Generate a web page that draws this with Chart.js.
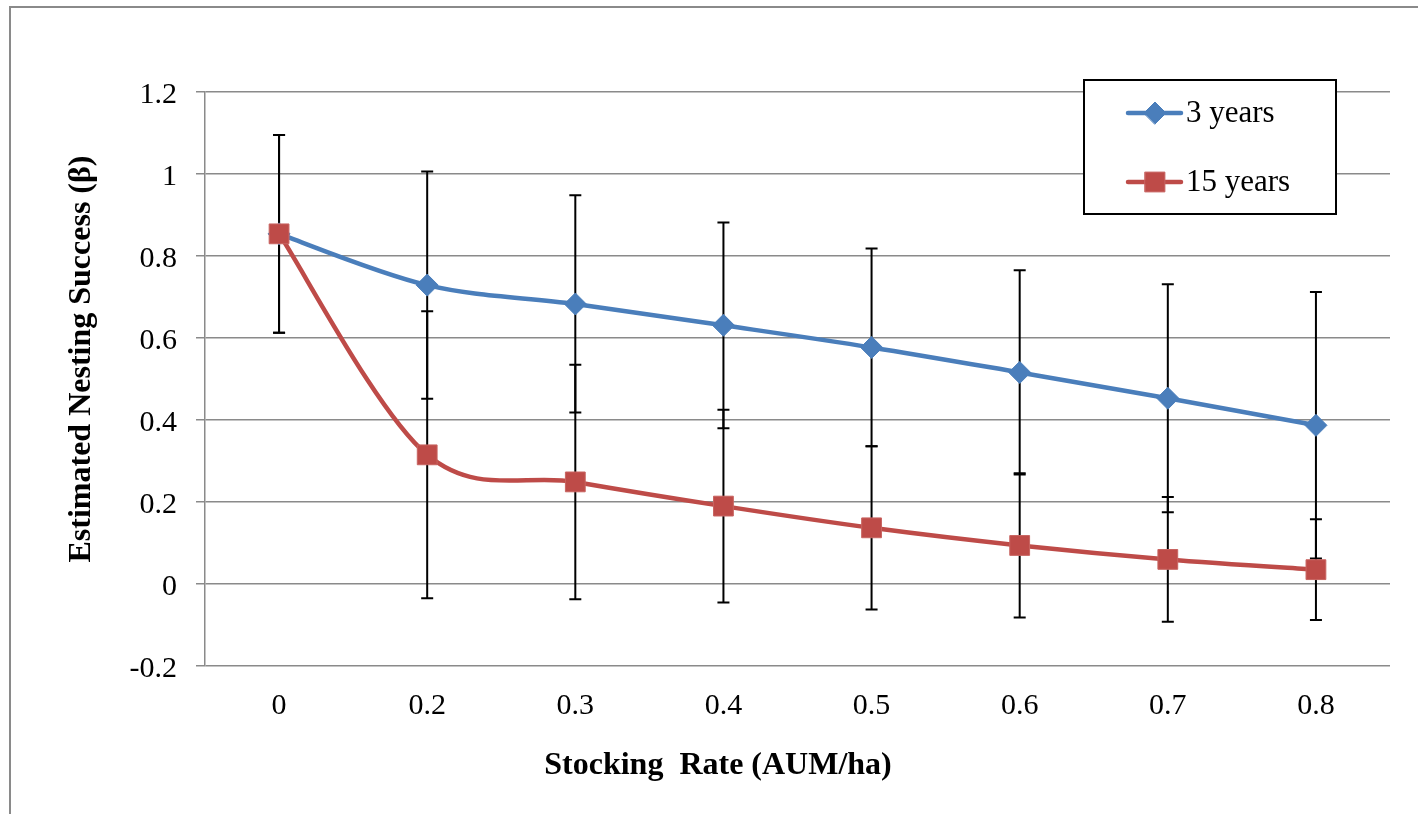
<!DOCTYPE html>
<html><head><meta charset="utf-8">
<script src="https://cdn.jsdelivr.net/npm/chart.js@4/dist/chart.umd.min.js"></script>
<style>
html,body{margin:0;padding:0;background:#fff;}
#wrap{position:relative;width:1418px;height:814px;overflow:hidden;background:#fff;}
#frame{position:absolute;left:9px;top:6px;width:2000px;height:2000px;border-top:2px solid #8a8a8a;border-left:2px solid #8a8a8a;}
canvas{position:absolute;left:0;top:0;}
</style></head><body>
<div id="wrap"><div id="frame"></div><canvas id="c" width="1418" height="814"></canvas></div>
<script>
const categories = ['0', '0.2', '0.3', '0.4', '0.5', '0.6', '0.7', '0.8'];
const yTickLabels = ['-0.2', '0', '0.2', '0.4', '0.6', '0.8', '1', '1.2'];
const seriesNames = ['3 years', '15 years'];
const threeYears = [0.854, 0.729, 0.683, 0.631, 0.577, 0.516, 0.453, 0.387];
const threeYearsErr = [0.241, 0.277, 0.265, 0.251, 0.241, 0.249, 0.278, 0.325];
const fifteenYears = [0.854, 0.315, 0.249, 0.190, 0.137, 0.094, 0.060, 0.035];
const fifteenYearsErr = [0.241, 0.350, 0.286, 0.235, 0.199, 0.176, 0.152, 0.123];
const xTitle = 'Stocking  Rate (AUM/ha)';
const yTitle = 'Estimated Nesting Success (\u03B2)';

const BLUE = '#4A7EBB';
const RED = '#BE4B48';
const SERIF = "'Liberation Serif', 'Times New Roman', serif";

// Excel-like smoothing: uniform Catmull-Rom control points
const excelSmooth = {
  id: 'excelSmooth',
  beforeDatasetsDraw(chart) {
    chart.data.datasets.forEach((ds, di) => {
      const meta = chart.getDatasetMeta(di);
      const line = meta.dataset;
      if (!line) return;
      if (line.updateControlPoints) line.updateControlPoints(chart.chartArea, 'x');
      const pts = meta.data;
      const n = pts.length;
      for (let i = 0; i < n; i++) {
        const prev = pts[Math.max(0, i - 1)];
        const next = pts[Math.min(n - 1, i + 1)];
        const dx = (next.x - prev.x) / 6, dy = (next.y - prev.y) / 6;
        pts[i].cp1x = pts[i].x - dx; pts[i].cp1y = pts[i].y - dy;
        pts[i].cp2x = pts[i].x + dx; pts[i].cp2y = pts[i].y + dy;
      }
      line._pointsUpdated = true;
      line._path = undefined;
    });
  }
};

const errorBars = {
  id: 'errorBars',
  beforeDatasetsDraw(chart) {
    const ctx = chart.ctx, ys = chart.scales.y;
    chart.data.datasets.forEach((ds, di) => {
      const meta = chart.getDatasetMeta(di);
      meta.data.forEach((pt, i) => {
        const v = ds.data[i], e = ds.errors[i];
        const yt = ys.getPixelForValue(v + e), yb = ys.getPixelForValue(v - e);
        ctx.save();
        ctx.strokeStyle = '#000';
        ctx.lineWidth = 2;
        ctx.beginPath();
        ctx.moveTo(pt.x, yt); ctx.lineTo(pt.x, yb);
        ctx.moveTo(pt.x - 6, yt); ctx.lineTo(pt.x + 6, yt);
        ctx.moveTo(pt.x - 6, yb); ctx.lineTo(pt.x + 6, yb);
        ctx.stroke();
        ctx.restore();
      });
    });
  }
};

const decorations = {
  id: 'decorations',
  afterDraw(chart) {
    const ctx = chart.ctx;
    ctx.save();
    ctx.fillStyle = '#000';
    ctx.font = 'bold 32px ' + SERIF;
    ctx.textAlign = 'center';
    ctx.textBaseline = 'middle';
    ctx.fillText(xTitle, 718, 766);
    ctx.translate(82, 359);
    ctx.rotate(-Math.PI / 2);
    ctx.fillText(yTitle, 0, 0);
    ctx.restore();

    // legend
    ctx.save();
    ctx.fillStyle = '#fff';
    ctx.fillRect(1084, 80, 252, 134);
    ctx.strokeStyle = '#000';
    ctx.lineWidth = 2;
    ctx.strokeRect(1084, 80, 252, 134);
    const rows = [113, 182];
    chart.data.datasets.forEach((ds, i) => {
      const y = rows[i];
      ctx.strokeStyle = ds.borderColor;
      ctx.lineWidth = 4.5;
      ctx.lineCap = 'round';
      ctx.beginPath(); ctx.moveTo(1128, y); ctx.lineTo(1181, y); ctx.stroke();
      ctx.fillStyle = ds.pointBackgroundColor;
      ctx.strokeStyle = ds.pointBorderColor;
      ctx.lineWidth = 1;
      ctx.beginPath();
      if (ds.pointStyle === 'rectRot') {
        const r = ds.pointRadius;
        ctx.moveTo(1155 - r, y); ctx.lineTo(1155, y - r); ctx.lineTo(1155 + r, y); ctx.lineTo(1155, y + r); ctx.closePath();
      } else {
        const s = ds.pointRadius * Math.SQRT1_2;
        ctx.rect(1155 - s, y - s, 2 * s, 2 * s);
      }
      ctx.fill(); ctx.stroke();
      ctx.fillStyle = '#000';
      ctx.font = '31px ' + SERIF;
      ctx.textAlign = 'left';
      ctx.textBaseline = 'middle';
      ctx.fillText(ds.label, 1186, y + 1);
    });
    ctx.restore();
  }
};

new Chart(document.getElementById('c'), {
  type: 'line',
  data: {
    labels: categories,
    datasets: [
      {
        label: seriesNames[0], data: threeYears, errors: threeYearsErr,
        borderColor: BLUE, backgroundColor: BLUE, borderWidth: 4.5,
        pointStyle: 'rectRot', pointRadius: 11, pointBorderWidth: 1,
        pointBackgroundColor: BLUE, pointBorderColor: BLUE,
        tension: 0.4, fill: false, order: 1
      },
      {
        label: seriesNames[1], data: fifteenYears, errors: fifteenYearsErr,
        borderColor: RED, backgroundColor: RED, borderWidth: 4.5,
        pointStyle: 'rect', pointRadius: 14, pointBorderWidth: 1,
        pointBackgroundColor: RED, pointBorderColor: '#C86461',
        tension: 0.4, fill: false, order: 0
      }
    ]
  },
  options: {
    responsive: false,
    animation: false,
    devicePixelRatio: 1,
    layout: { padding: { left: 0, right: 28, top: 92, bottom: 0 } },
    plugins: { legend: { display: false }, tooltip: { enabled: false } },
    scales: {
      x: {
        offset: true,
        grid: { display: false, drawTicks: false },
        border: { display: false },
        ticks: { color: '#000', font: { family: SERIF, size: 30 }, padding: 22, maxRotation: 0 },
        afterFit(s) { s.height = 148; }
      },
      y: {
        min: -0.2, max: 1.2,
        ticks: {
          stepSize: 0.2, color: '#000', font: { family: SERIF, size: 30 }, padding: 19, labelOffset: 3,
          callback: (v, i) => yTickLabels[i]
        },
        grid: { color: '#8a8a8a', lineWidth: 1.5, tickLength: 9, drawTicks: true },
        border: { display: true, color: '#8a8a8a', width: 1.5 },
        afterFit(s) { s.width = 205; }
      }
    }
  },
  plugins: [excelSmooth, errorBars, decorations]
});
</script>
</body></html>
